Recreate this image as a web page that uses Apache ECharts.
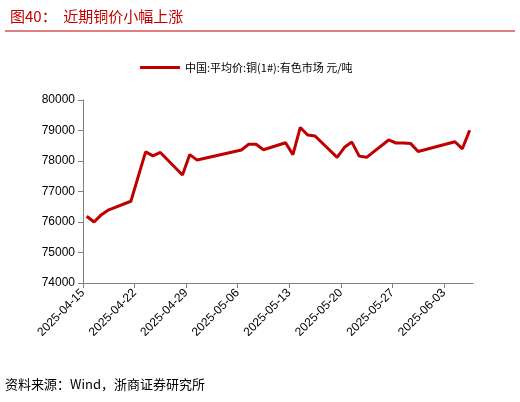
<!DOCTYPE html>
<html><head><meta charset="utf-8">
<script src="https://cdn.jsdelivr.net/npm/echarts@6/dist/echarts.min.js"></script>
<style>body{margin:0}#c{width:520px;height:402px}</style></head>
<body><div id="c"></div>
<script>
const dates = ['2025-04-15','2025-04-16','2025-04-17','2025-04-18','2025-04-21','2025-04-23','2025-04-24','2025-04-25','2025-04-28','2025-04-29','2025-04-30','2025-05-06','2025-05-07','2025-05-08','2025-05-09','2025-05-12','2025-05-13','2025-05-14','2025-05-15','2025-05-16','2025-05-19','2025-05-20','2025-05-21','2025-05-22','2025-05-23','2025-05-26','2025-05-27','2025-05-28','2025-05-29','2025-05-30','2025-06-04','2025-06-05','2025-06-06'];
const values = [76190,76000,76240,76400,76680,78300,78170,78280,77540,78210,78030,78360,78550,78550,78370,78600,78210,79100,78850,78820,78120,78450,78620,78160,78120,78690,78590,78590,78570,78310,78630,78400,79010];
const tickDates = ['2025-04-15','2025-04-22','2025-04-29','2025-05-06','2025-05-13','2025-05-20','2025-05-27','2025-06-03'];
const seriesName = '中国:平均价:铜(1#):有色市场 元/吨';

const DAY = 86400000;
const t = s => Date.parse(s + 'T00:00:00Z');
const base = t(dates[0]);
const dayOf = s => (t(s) - base) / DAY;
const tickSet = new Set(tickDates.map(dayOf));
const chart = echarts.init(document.getElementById('c'));
const font = '"Noto Sans CJK SC", sans-serif';
chart.setOption({
  animation: false,
  title: { text: '图40：  近期铜价小幅上涨', left: 5, top: 4, textStyle: { color: '#c00000', fontSize: 15, fontWeight: 'normal', fontFamily: font } },
  graphic: [
    { type: 'line', shape: { x1: 5, y1: 31, x2: 515, y2: 31 }, style: { stroke: '#c00000', lineWidth: 1 } },
    { type: 'text', left: 5, top: 378, style: { text: '资料来源：Wind，浙商证券研究所', fill: '#000', font: '13px ' + font } }
  ],
  legend: { top: 57, left: 135, itemWidth: 40, itemHeight: 3, itemGap: 5, textStyle: { fontSize: 11, color: '#000', fontFamily: font }, data: [{ name: seriesName, icon: 'rect' }] },
  grid: { left: 83, right: 47, top: 100, bottom: 119 },
  xAxis: {
    type: 'value', min: 0, max: 52.95, interval: 7,
    axisLine: { onZero: false, lineStyle: { color: '#808080' } },
    axisTick: { show: true, lineStyle: { color: '#808080' } },
    splitLine: { show: false },
    axisLabel: { rotate: 45, color: '#000', fontSize: 12, fontFamily: 'Liberation Sans', hideOverlap: false, showMaxLabel: false,
      formatter: v => tickSet.has(v) ? new Date(base + v * DAY).toISOString().slice(0, 10) : '' }
  },
  yAxis: {
    type: 'value', min: 74000, max: 80000, interval: 1000,
    axisLine: { show: true, lineStyle: { color: '#808080' } },
    axisTick: { show: true, lineStyle: { color: '#808080' } },
    splitLine: { show: false },
    axisLabel: { color: '#000', fontSize: 12, fontFamily: 'Liberation Sans', formatter: v => String(v) }
  },
  series: [{
    name: seriesName, type: 'line', showSymbol: false,
    lineStyle: { color: '#c00000', width: 3 }, itemStyle: { color: '#c00000' },
    data: dates.map((d, i) => [dayOf(d) + 0.5, values[i]])
  }]
});
</script></body></html>
